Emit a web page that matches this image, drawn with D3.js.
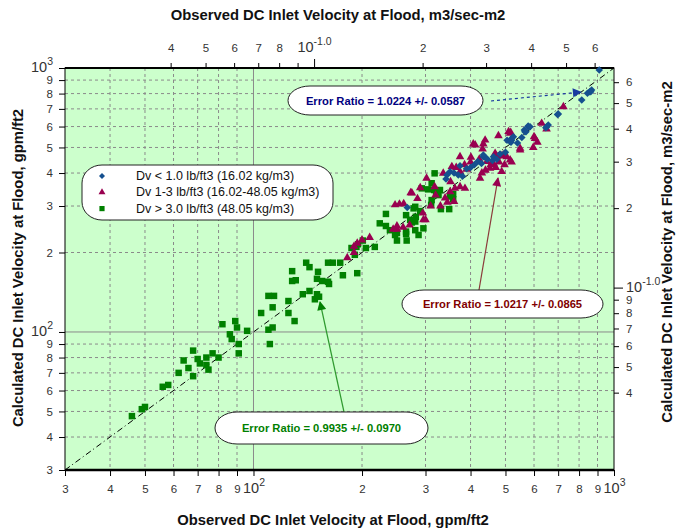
<!DOCTYPE html>
<html>
<head>
<meta charset="utf-8">
<script src="https://cdn.jsdelivr.net/npm/d3@7"></script>
<style>
  body { margin: 0; background: #fff; }
  text { font-family: "Liberation Sans", Arial, sans-serif; }
</style>
</head>
<body>
<svg id="chart" width="680" height="531"></svg>
<script>
// observed vs calculated DC inlet velocity, gpm/ft2  [observed, calculated]
var lowDensity = [
  [267,296],[342,380],[344,393],[351,405],[370,393],[374,426],[380,389],[360,400],[390,415],[400,420],
  [410,430],[419,442],[429,435],[434,461],[434,468],[443,454],[445,451],[460,446],[463,461],[473,451],
  [483,472],[500,480],[505,533],[515,527],[518,523],[520,533],[520,541],[526,549],[540,520],[555,545],
  [564,582],[566,574],[570,574],[578,599],[578,603],[585,599],[647,594],[651,599],[657,608],[697,667],
  [701,669],[814,756],[844,802],[856,813],[862,813],[867,825],[910,982]
];
var midDensity = [
  [182,191],[190,200],[190,211],[194,217],[200,223],[210,228],[244,245],[250,252],[250,245],[260,249],
  [271,254],[247,303],[254,305],[261,306],[273,337],[275,336],[295,282],[296,266],[300,266],[302,382],
  [320,330],[340,322],[345,310],[330,300],[360,312],[310,300],[285,320],[318,355],[290,352],[336,399],
  [351,340],[352,371],[355,423],[362,350],[374,355],[374,405],[386,350],[390,413],[401,459],[425,382],
  [423,451],[444,442],[453,417],[463,435],[488,405],[488,464],[515,448],[549,489],[549,496],[407,515],
  [412,511],[434,515],[439,533],[374,461],[432,493],[468,475],[473,461],[493,468],[504,461],[478,554],
  [515,566],[510,574],[517,570],[597,500],[604,541],[600,549],[613,523],[630,617],[650,587],[724,713],
  [455,430],[470,420],[480,440],[497,430],[440,410],[430,400],[520,440],[400,440],[385,430],[365,420]
];
var highDensity = [
  [46,48],[49,51],[50,52],[56,62],[58,63],[62,70],[66,73],[68,68],[64,78],[68,85],
  [70,79],[71,76],[74,80],[74,75],[75,72],[77,83],[80,80],[82,107],[86,98],[87,94],
  [89,110],[90,104],[91,90],[91,83],[96,101],[105,118],[110,102],[113,124],[113,104],[111,90],
  [110,137],[114,137],[125,131],[125,118],[130,110],[128,170],[128,156],[131,157],[140,183],[143,176],
  [151,169],[150,159],[155,156],[161,155],[162,152],[143,143],[137,139],[150,139],[152,136],[148,133],
  [161,183],[166,183],[174,183],[177,164],[187,208],[193,210],[195,215],[191,196],[194,167],[201,222],
  [205,208],[217,210],[224,258],[233,280],[233,252],[239,243],[247,233],[250,222],[265,235],[266,222],
  [265,277],[272,266],[278,294],[281,298],[282,273],[281,243],[290,287],[293,350],[296,247],[312,316],
  [312,366],[317,345],[318,399],[326,330],[329,345],[331,292],[349,292],[351,326],[358,333],[305,347],
  [321,333],[311,303],[358,318],[265,240],[250,237],[287,233],[281,262],[275,260]
];
var seriesNames = [
  "Dv < 1.0 lb/ft3 (16.02 kg/m3)",
  "Dv 1-3 lb/ft3 (16.02-48.05 kg/m3)",
  "Dv > 3.0 lb/ft3 (48.05 kg/m3)"
];
var errorRatios = ["1.0224 +/- 0.0587", "1.0217 +/- 0.0865", "0.9935 +/- 0.0970"];
var gpmTicks = [30,40,50,60,70,80,90,100,200,300,400,500,600,700,800,900,1000];
var m3Ticks = [0.04,0.05,0.06,0.07,0.08,0.09,0.1,0.2,0.3,0.4,0.5,0.6];
var gpmToM3 = 6.791e-4;   // 1 gpm/ft2 in m3/sec-m2

var svg = d3.select("#chart");
var L = 65, R = 614, T = 68, B = 470;

var x = d3.scaleLog().domain([30, 1000]).range([L, R]);
var y = d3.scaleLog().domain([30, 1000]).range([B, T]);
var xm = d3.scaleLog().domain([30 * gpmToM3, 1000 * gpmToM3]).range([L, R]);
var ym = d3.scaleLog().domain([30 * gpmToM3, 1000 * gpmToM3]).range([B, T]);

function isPow10(d) {
  var l = Math.log10(d);
  return Math.abs(l - Math.round(l)) < 1e-6;
}
function digit(d) {
  return Math.round(d / Math.pow(10, Math.floor(Math.log10(d) + 1e-9)));
}

// plot background
svg.append("rect")
  .attr("x", L).attr("y", T).attr("width", R - L).attr("height", B - T)
  .attr("fill", "#ccffcc");

// grid
var grid = svg.append("g");
gpmTicks.slice(1, -1).forEach(function (v) {
  grid.append("line")
    .attr("x1", x(v)).attr("x2", x(v)).attr("y1", T).attr("y2", B)
    .attr("stroke", "#8a8a8a").attr("stroke-width", 1)
    .attr("stroke-dasharray", v === 100 ? null : "3,3");
  grid.append("line")
    .attr("x1", L).attr("x2", R).attr("y1", y(v)).attr("y2", y(v))
    .attr("stroke", "#8a8a8a").attr("stroke-width", 1)
    .attr("stroke-dasharray", v === 100 ? null : "3,3");
});

// axes
function styleAxis(g, expText, bigSize) {
  g.select(".domain").remove();
  g.selectAll(".tick line").attr("stroke", "#000");
  g.selectAll(".tick text")
    .attr("fill", "#333").attr("font-size", 11.5)
    .each(function (d) {
      if (isPow10(d)) {
        var t = d3.select(this).text(null);
        t.append("tspan").attr("font-size", bigSize).text("10");
        t.append("tspan").attr("font-size", 10.5).attr("dy", "-0.65em").text(expText(d));
      }
    });
}

var gpmFormat = function (d) { return isPow10(d) ? "10" : String(digit(d)); };

svg.append("g").attr("transform", "translate(0," + B + ")")
  .call(d3.axisBottom(x).tickValues(gpmTicks).tickFormat(gpmFormat).tickSize(6).tickPadding(9))
  .call(styleAxis, function (d) { return String(Math.round(Math.log10(d))); }, 14.5);

svg.append("g").attr("transform", "translate(" + L + ",0)")
  .call(d3.axisLeft(y).tickValues(gpmTicks).tickFormat(gpmFormat).tickSize(6).tickPadding(6))
  .call(styleAxis, function (d) { return String(Math.round(Math.log10(d))); }, 14.5);

var topAxis = svg.append("g").attr("transform", "translate(0," + T + ")")
  .call(d3.axisTop(xm).tickValues(m3Ticks)
    .tickFormat(function (d) { return d === 0.09 ? "" : (isPow10(d) ? "10" : String(digit(d))); })
    .tickSize(5).tickPadding(11))
  .call(styleAxis, function () { return "-1.0"; }, 14.5);
topAxis.selectAll(".tick line").attr("y2", function (d) { return isPow10(d) ? -9 : -5; });

var rightAxis = svg.append("g").attr("transform", "translate(" + R + ",0)")
  .call(d3.axisRight(ym).tickValues(m3Ticks)
    .tickFormat(function (d) { return isPow10(d) ? "10" : String(digit(d)); })
    .tickSize(5).tickPadding(7))
  .call(styleAxis, function () { return "-1.0"; }, 14.5);
rightAxis.selectAll(".tick line").attr("x2", function (d) { return isPow10(d) ? 9 : 5; });

// frame
svg.append("rect")
  .attr("x", L).attr("y", T).attr("width", R - L).attr("height", B - T)
  .attr("fill", "none").attr("stroke", "#000").attr("stroke-width", 1);
svg.append("line").attr("x1", L).attr("x2", R).attr("y1", T).attr("y2", T)
  .attr("stroke", "#000").attr("stroke-width", 2);
svg.append("line").attr("x1", L).attr("x2", R).attr("y1", B).attr("y2", B)
  .attr("stroke", "#000").attr("stroke-width", 2.5);

// 1:1 line
svg.append("line")
  .attr("x1", x(30)).attr("y1", y(30)).attr("x2", x(1000)).attr("y2", y(1000))
  .attr("stroke", "#000").attr("stroke-width", 1)
  .attr("stroke-dasharray", "6,3,1,3");

// points
var diamond = d3.symbol(d3.symbolSquare, 28);
var triangle = d3.symbol(d3.symbolTriangle, 32);
var square = d3.symbol(d3.symbolSquare, 42);
var colors = ["#15508f", "#990050", "#008000"];

svg.append("g").selectAll("path").data(highDensity).enter().append("path")
  .attr("d", square)
  .attr("transform", function (d) { return "translate(" + x(d[0]) + "," + y(d[1]) + ")"; })
  .attr("fill", colors[2]);

svg.append("g").selectAll("path").data(midDensity).enter().append("path")
  .attr("d", triangle)
  .attr("transform", function (d) { return "translate(" + x(d[0]) + "," + y(d[1]) + ")"; })
  .attr("fill", colors[1]);

svg.append("g").selectAll("path").data(lowDensity).enter().append("path")
  .attr("d", diamond)
  .attr("transform", function (d) { return "translate(" + x(d[0]) + "," + y(d[1]) + ") rotate(45)"; })
  .attr("fill", colors[0]);

// legend
var legend = svg.append("g");
legend.append("rect")
  .attr("x", 82).attr("y", 165).attr("width", 251).attr("height", 55)
  .attr("rx", 20).attr("ry", 18)
  .attr("fill", "#fff").attr("stroke", "#222").attr("stroke-width", 1);
var shapes = [diamond, triangle, square];
seriesNames.forEach(function (name, i) {
  var cy = 176 + i * 16.3;
  legend.append("path")
    .attr("d", shapes[i])
    .attr("transform", "translate(102," + cy + ")" + (i === 0 ? " rotate(45)" : "") + " scale(0.8)")
    .attr("fill", colors[i]);
  legend.append("text")
    .attr("x", 136).attr("y", cy + 4)
    .attr("font-size", 12.5).attr("fill", "#111")
    .text(name);
});

// error ratio call-outs
var defs = svg.append("defs");
colors.concat(["#1a3aa0"]).forEach(function (c, i) {
  defs.append("marker")
    .attr("id", "arrow" + i)
    .attr("viewBox", "0 0 10 10").attr("refX", 9).attr("refY", 5)
    .attr("markerWidth", 14).attr("markerHeight", 9)
    .attr("markerUnits", "userSpaceOnUse")
    .attr("orient", "auto")
    .append("path").attr("d", "M0,0L10,5L0,10z").attr("fill", c);
});

var callouts = [
  { box: [288, 86, 195, 29], text: errorRatios[0], color: "#000080", line: "#1a3aa0",
    from: [491, 101], to: [581, 92], dash: "3,3", marker: 3 },
  { box: [402, 290, 201, 28], text: errorRatios[1], color: "#800000", line: "#8b3a3a",
    from: [479, 290], to: [498, 178], dash: null, marker: 1 },
  { box: [215, 412, 213, 32], text: errorRatios[2], color: "#008000", line: "#2f9a2f",
    from: [344, 412], to: [320, 302], dash: null, marker: 2 }
];
callouts.forEach(function (c) {
  svg.append("line")
    .attr("x1", c.from[0]).attr("y1", c.from[1]).attr("x2", c.to[0]).attr("y2", c.to[1])
    .attr("stroke", c.line).attr("stroke-width", 1.2)
    .attr("stroke-dasharray", c.dash)
    .attr("marker-end", "url(#arrow" + c.marker + ")");
  svg.append("rect")
    .attr("x", c.box[0]).attr("y", c.box[1]).attr("width", c.box[2]).attr("height", c.box[3])
    .attr("rx", 22).attr("ry", c.box[3] / 2)
    .attr("fill", "#fff").attr("stroke", "#222").attr("stroke-width", 1);
  svg.append("text")
    .attr("x", c.box[0] + c.box[2] / 2).attr("y", c.box[1] + c.box[3] / 2 + 4)
    .attr("text-anchor", "middle")
    .attr("font-size", 11.2).attr("font-weight", "bold").attr("fill", c.color)
    .text("Error Ratio = " + c.text);
});

// axis titles
svg.append("text").attr("x", 333).attr("y", 525).attr("text-anchor", "middle")
  .attr("font-size", 14.8).attr("font-weight", "bold").attr("fill", "#111")
  .text("Observed DC Inlet Velocity at Flood, gpm/ft2");
svg.append("text").attr("x", 338).attr("y", 20).attr("text-anchor", "middle")
  .attr("font-size", 14.8).attr("font-weight", "bold").attr("fill", "#111")
  .text("Observed DC Inlet Velocity at Flood, m3/sec-m2");
svg.append("text").attr("transform", "translate(23,268) rotate(-90)").attr("text-anchor", "middle")
  .attr("font-size", 14.8).attr("font-weight", "bold").attr("fill", "#111")
  .text("Calculated DC Inlet Velocity at Flood, gpm/ft2");
svg.append("text").attr("transform", "translate(672,252) rotate(-90)").attr("text-anchor", "middle")
  .attr("font-size", 14.8).attr("font-weight", "bold").attr("fill", "#111")
  .text("Calculated DC Inlet Velocity at Flood, m3/sec-m2");
</script>
</body>
</html>
